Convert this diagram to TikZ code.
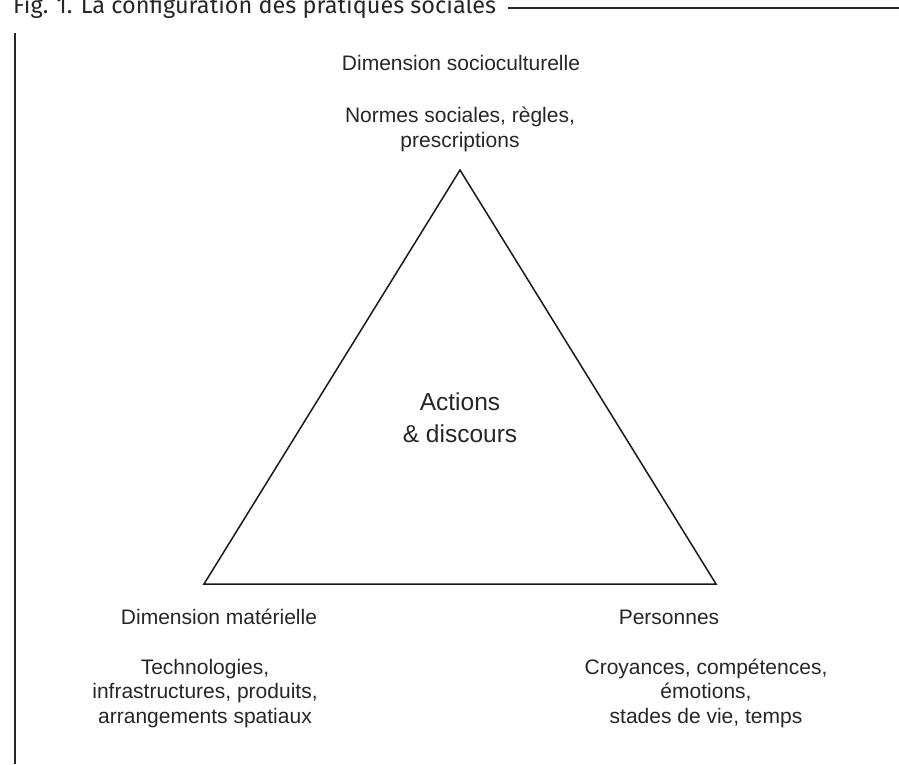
\documentclass[tikz,border=0pt]{standalone}
\usepackage{fontspec}
\setmainfont{Liberation Sans}
\newfontfamily\titlefont{Fira Sans}
\usetikzlibrary{calc}

\begin{document}
\begin{tikzpicture}[x=1pt, y=-1pt,
  heading/.style = {anchor=base, inner sep=0pt, text=black!85,
    font=\fontsize{21}{24.5}\selectfont},
  details/.style = {anchor=base, inner sep=0pt, align=center, text=black!85,
    font=\fontsize{21}{24.5}\selectfont},
  core/.style = {anchor=base, inner sep=0pt, align=center, text=black!85,
    font=\fontsize{24.5}{31.5}\selectfont},
  frame/.style = {draw=black!85, line width=2pt},
  edge/.style = {draw=black!90, line width=1.5pt, line join=miter}]
  \useasboundingbox (0,0) rectangle (899,764);

  % caption and frame
  \node[anchor=base west, inner sep=0pt, text=black!85,
    font=\titlefont\fontsize{23.5}{28}\selectfont] (title) at (13,13)
    {Fig. 1. La configuration des pratiques sociales};
  \coordinate (ruleend) at (899,7.5);
  \coordinate (bartop) at (15,33);
  \coordinate (barbot) at (15,764);
  \draw[frame] ([xshift=12pt]title.east |- ruleend) -- (ruleend);
  \draw[frame] (bartop) -- (barbot);

  % triangle
  \coordinate (apex) at (460,170);
  \coordinate (left) at (204,584);
  \coordinate (right) at (716,584);
  \draw[edge] (apex) -- (right) -- (left) -- cycle;

  % base anchor of a multi-line node sits on its last line
  \node[core] (center) at (460,442) {Actions\\ \& discours};

  \node[heading] (socio) at (461,70) {Dimension socioculturelle};
  \node[details] (normes) at (460,147) {Normes sociales, règles,\\ prescriptions};

  \node[heading] (materiel) at (219,624) {Dimension matérielle};
  \node[details] (techno) at (205,723)
    {Technologies,\\ infrastructures, produits,\\ arrangements spatiaux};

  \node[heading] (personnes) at (669,624) {Personnes};
  \node[details] (croyances) at (706,723)
    {Croyances, compétences,\\ émotions,\\ stades de vie, temps};
\end{tikzpicture}
\end{document}
